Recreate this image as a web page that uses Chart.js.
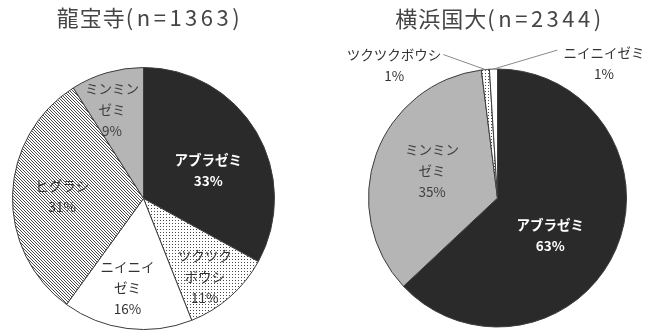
<!DOCTYPE html>
<html lang="ja">
<head>
<meta charset="utf-8">
<script src="https://cdn.jsdelivr.net/npm/chart.js@4"></script>
<style>
  html, body { margin: 0; padding: 0; background: #fff; overflow: hidden; }
  #wrap { position: relative; width: 645px; height: 333px; }
  canvas { position: absolute; top: 0; }
  #ryuhoji { left: 0; }
  #ynu { left: 322px; }
</style>
</head>
<body>
<div id="wrap">
  <canvas id="ryuhoji" width="322" height="333"></canvas>
  <canvas id="ynu" width="323" height="333"></canvas>
</div>
<script>
// ---- data: share of cicada species (%) at each survey site ----
const ryuhojiTitle = '龍宝寺(n=1363)';
const ryuhojiSpecies = ['アブラゼミ', 'ツクツクボウシ', 'ニイニイゼミ', 'ヒグラシ', 'ミンミンゼミ'];
const ryuhojiShare = [33, 11, 16, 31, 9];

const ynuTitle = '横浜国大(n=2344)';
const ynuSpecies = ['アブラゼミ', 'ミンミンゼミ', 'ツクツクボウシ', 'ニイニイゼミ'];
const ynuShare = [63, 35, 1, 1];

// how each species name is broken into lines inside its slice
const ryuhojiNameLines = [['アブラゼミ'], ['ツクツク', 'ボウシ'], ['ニイニイ', 'ゼミ'], ['ヒグラシ'], ['ミンミン', 'ゼミ']];
const ynuNameLines = [['アブラゼミ'], ['ミンミン', 'ゼミ'], ['ツクツクボウシ'], ['ニイニイゼミ']];

// ---- fills ----
function tilePattern(size, paint) {
  const c = document.createElement('canvas');
  c.width = size; c.height = size;
  const g = c.getContext('2d');
  g.fillStyle = '#ffffff';
  g.fillRect(0, 0, size, size);
  paint(g);
  return document.createElement('canvas').getContext('2d').createPattern(c, 'repeat');
}
const dots = tilePattern(3, g => { g.fillStyle = '#4a4a4a'; g.fillRect(1, 1, 1, 1); });
const hatch = tilePattern(3, g => {
  g.fillStyle = '#4a4a4a';
  for (let i = 0; i < 3; i++) g.fillRect(i, i, 1, 1);
});
const fills = {
  'アブラゼミ': '#2a2a2a',
  'ミンミンゼミ': '#b5b5b5',
  'ツクツクボウシ': dots,
  'ニイニイゼミ': '#ffffff',
  'ヒグラシ': hatch
};

const LABEL_FONT = '13.5px "Noto Sans CJK JP", sans-serif';
const LABEL_FONT_BOLD = 'bold 13.5px "Noto Sans CJK JP", sans-serif';
const LINE_H = 21;

// slice labels: inside ones sit at a fraction of the radius, outside ones get a leader line
function sliceLabels(nameLines, place) {
  return {
    id: 'sliceLabels',
    afterDatasetsDraw(chart) {
      const ctx = chart.ctx;
      const values = chart.data.datasets[0].data;
      chart.getDatasetMeta(0).data.forEach((arc, i) => {
        const p = place[i];
        const { x, y, startAngle, endAngle, outerRadius } =
          arc.getProps(['x', 'y', 'startAngle', 'endAngle', 'outerRadius'], true);
        const lines = nameLines[i].concat([values[i] + '%']);
        const mid = (startAngle + endAngle) / 2;
        ctx.save();
        ctx.font = p.bold ? LABEL_FONT_BOLD : LABEL_FONT;
        ctx.fillStyle = p.color;
        ctx.textAlign = 'center';
        ctx.textBaseline = 'middle';
        if (p.outside) {
          const px = x + outerRadius * Math.cos(mid);
          const py = y + outerRadius * Math.sin(mid);
          const ex = px + p.dx, ey = py + p.dy;
          ctx.strokeStyle = '#8a8a8a';
          ctx.lineWidth = 1;
          ctx.beginPath();
          ctx.moveTo(px, py);
          ctx.lineTo(ex, ey);
          ctx.stroke();
          const w = Math.max(...lines.map(l => ctx.measureText(l).width));
          const cx = p.dx < 0 ? ex - 2 - w / 2 : ex + 6 + w / 2;
          lines.forEach((l, k) => ctx.fillText(l, cx, ey + p.dy2 + k * LINE_H));
        } else {
          const a = mid + p.turn * Math.PI / 180;
          const r = outerRadius * p.frac;
          const cx = x + r * Math.cos(a);
          const cy = y + r * Math.sin(a);
          const top = cy - (lines.length - 1) * LINE_H / 2;
          lines.forEach((l, k) => ctx.fillText(l, cx, top + k * LINE_H));
        }
        ctx.restore();
      });
    }
  };
}

// heading drawn with wider tracking on the "(n=…)" part
function heading(text, cx, cy) {
  return {
    id: 'heading',
    afterDraw(chart) {
      const ctx = chart.ctx;
      ctx.save();
      ctx.font = '22px "Noto Sans CJK JP", sans-serif';
      ctx.fillStyle = '#454545';
      ctx.textBaseline = 'middle';
      ctx.textAlign = 'left';
      const runs = text.match(/[\u3000-\u9fff]+|[^\u3000-\u9fff]+/g).map(s => {
        const cjk = /[\u3000-\u9fff]/.test(s);
        ctx.letterSpacing = cjk ? '1px' : '3.5px';
        return { s, cjk, w: ctx.measureText(s).width };
      });
      let xPos = cx - runs.reduce((t, r) => t + r.w, 0) / 2;
      runs.forEach(r => {
        ctx.letterSpacing = r.cjk ? '1px' : '3.5px';
        ctx.fillText(r.s, xPos, cy);
        xPos += r.w;
      });
      ctx.restore();
    }
  };
}

function pieChart(canvasId, species, share, padding, plugins) {
  return new Chart(document.getElementById(canvasId), {
    type: 'pie',
    data: {
      labels: species,
      datasets: [{
        data: share,
        backgroundColor: species.map(s => fills[s]),
        borderColor: '#3c3c3c',
        borderWidth: 1
      }]
    },
    options: {
      responsive: false,
      animation: false,
      events: [],
      layout: { padding },
      plugins: { legend: { display: false }, tooltip: { enabled: false }, title: { display: false } }
    },
    plugins
  });
}

pieChart('ryuhoji', ryuhojiSpecies, ryuhojiShare,
  { left: 12, top: 67, right: 47, bottom: 3 },
  [
    sliceLabels(ryuhojiNameLines, [
      { frac: 0.54, turn: 7, color: '#ffffff', bold: true },
      { frac: 0.76, turn: 3.5, color: '#333333' },
      { frac: 0.69, turn: 3, color: '#333333' },
      { frac: 0.62, turn: 0, color: '#333333' },
      { frac: 0.72, turn: -3.3, color: '#404040' }
    ]),
    heading(ryuhojiTitle, 150, 18)
  ]);

pieChart('ynu', ynuSpecies, ynuShare,
  { left: 46, top: 68, right: 18, bottom: 5 },
  [
    sliceLabels(ynuNameLines, [
      { frac: 0.5, turn: 11.8, color: '#ffffff', bold: true },
      { frac: 0.55, turn: 3, color: '#404040' },
      { outside: true, dx: -42, dy: -15, dy2: 0, color: '#333333' },
      { outside: true, dx: 64, dy: -19, dy2: 3, color: '#333333' }
    ]),
    heading(ynuTitle, 178, 19)
  ]);
</script>
</body>
</html>
